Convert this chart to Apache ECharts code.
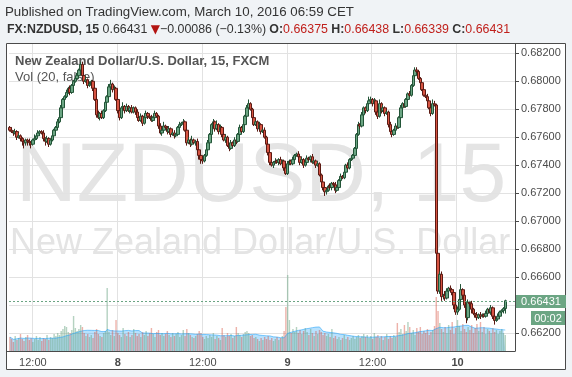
<!DOCTYPE html>
<html>
<head>
<meta charset="utf-8">
<script src="https://cdn.jsdelivr.net/npm/echarts@6/dist/echarts.min.js"></script>
<style>
  html, body { margin: 0; padding: 0; background: #f0f3f6; }
  #chart { width: 572px; height: 377px; }
</style>
</head>
<body>
<div id="chart"></div>
<script>
// FX:NZDUSD 15 min bars, Mar 7 08:45 -> Mar 10 06:45, prices in pips (x 0.0001)
const firstOpen = 6767;
const closes = [
  6765,6764,6763,6764,6760,6761,6759,6757,6756,6758,6757,6756,6755,6758,6759,6761,6763,6764,6763,6759,
  6757,6759,6755,6758,6761,6765,6767,6771,6774,6781,6787,6789,6792,6795,6792,6797,6800,6802,6804,6808,
  6812,6804,6800,6801,6797,6798,6800,6795,6787,6776,6774,6777,6774,6779,6785,6789,6796,6798,6794,6795,
  6787,6779,6774,6781,6782,6779,6782,6779,6781,6778,6781,6778,6774,6772,6775,6770,6774,6777,6775,6774,
  6772,6774,6777,6775,6768,6763,6765,6768,6767,6764,6766,6762,6763,6761,6762,6767,6769,6770,6771,6765,
  6756,6758,6755,6758,6756,6757,6751,6747,6744,6743,6747,6751,6756,6762,6769,6771,6766,6769,6764,6767,
  6762,6758,6760,6754,6752,6756,6754,6758,6757,6762,6767,6764,6769,6775,6781,6784,6780,6774,6769,6771,
  6766,6769,6764,6765,6760,6755,6749,6742,6740,6742,6743,6742,6744,6741,6743,6738,6734,6741,6743,6741,
  6744,6747,6748,6746,6742,6744,6740,6742,6745,6744,6746,6742,6743,6740,6741,6733,6728,6724,6721,6722,
  6725,6724,6727,6726,6722,6724,6729,6732,6731,6735,6740,6738,6744,6745,6747,6752,6762,6769,6768,6776,
  6781,6779,6784,6786,6787,6784,6786,6778,6775,6784,6779,6781,6777,6778,6769,6764,6762,6765,6768,6767,
  6774,6781,6784,6782,6787,6791,6790,6797,6804,6808,6807,6802,6799,6794,6790,6789,6786,6781,6777,6784,
  6783,6677,6650,6662,6646,6647,6645,6650,6652,6651,6649,6640,6635,6637,6644,6651,6647,6640,6631,6642,
  6641,6637,6634,6633,6631,6633,6632,6633,6632,6634,6637,6635,6638,6632,6629,6630,6632,6635,6636,6637.5,
  6643.1
];
const wickUp = [
  1,2,1,2,1,2,1,1,2,1,1,2,1,1,3,1,2,1,1,2, 1,2,1,1,2,1,1,2,1,2,1,1,2,1,2,1,1,1,2,1,
  2,2,1,3,1,2,1,1,2,1,3,1,2,1,1,1,2,3,1,2, 1,1,2,1,3,1,2,1,1,2,1,1,2,1,2,1,3,2,1,1,
  2,1,2,1,1,2,1,3,1,1,2,1,1,2,1,1,2,1,2,1, 1,2,1,3,1,1,2,1,1,2,1,1,2,1,1,2,1,3,1,2,
  1,1,2,1,1,2,1,2,1,1,2,1,1,1,2,3,1,1,2,1, 1,2,1,1,2,1,1,1,2,1,2,1,1,2,1,1,3,2,1,1,
  2,1,1,2,1,2,1,1,2,1,1,2,1,1,2,1,1,2,1,1, 1,2,1,1,2,1,1,2,1,1,1,2,1,2,1,1,1,2,1,2,
  1,1,2,3,2,1,2,1,1,3,1,2,1,1,1,2,1,1,2,1, 1,2,1,2,1,1,2,1,3,2,2,1,1,2,1,1,2,1,1,3,
  2,1,3,2,2,1,3,2,1,2,1,2,1,2,1,4,1,2,1,2, 1,2,1,1,2,1,2,1,1,2,1,1,2,1,1,1,2,1,1,1,
  0.7
];
const wickDn = [
  1,1,2,1,2,1,2,3,4,2,3,2,3,1,2,1,1,2,1,2, 3,1,2,1,1,1,2,1,1,1,1,2,1,1,2,1,1,1,1,2,
  1,1,2,1,2,1,1,2,1,2,1,2,1,1,1,2,1,1,2,1, 1,2,2,1,1,2,1,1,2,1,1,2,2,1,1,2,1,1,2,1,
  1,1,2,1,2,1,2,1,1,2,1,2,1,2,1,1,2,1,1,1, 2,1,2,1,1,2,1,3,3,2,1,1,1,1,1,1,2,1,2,1,
  2,1,2,1,2,1,1,1,2,1,1,1,1,1,1,1,1,2,1,1, 2,1,2,1,1,1,2,2,1,2,1,1,2,1,2,2,1,1,1,1,
  1,1,1,1,2,1,2,1,1,1,2,1,1,2,1,1,2,2,3,2, 1,1,2,1,2,1,1,1,1,1,1,1,1,1,1,1,1,1,2,1,
  1,2,1,1,1,2,1,2,2,1,2,1,2,1,2,1,2,1,1,1, 1,1,1,1,1,1,1,1,1,1,1,1,2,1,1,1,2,1,2,1,
  1,3,2,2,3,2,2,1,2,1,2,3,2,2,1,2,3,2,4,2, 2,3,1,2,2,1,2,1,1,1,2,1,2,2,3,1,1,2,1,2,
  3.6
];
const volumes = [
  14,12,9,15,11,13,17,12,10,14,16,11,13,9,12,15,11,14,10,13,
  12,16,11,14,13,17,15,18,16,20,22,25,24,19,18,21,35,23,20,22,
  26,24,18,15,17,14,16,13,19,22,17,15,14,18,20,63,19,16,21,15,
  31,18,16,14,23,17,15,19,14,16,22,18,15,17,14,19,16,20,15,18,
  23,17,14,19,21,16,18,15,17,20,16,14,18,15,17,19,14,16,21,15,
  22,18,16,14,13,15,17,20,18,14,12,15,13,16,14,18,12,15,13,11,
  23,16,14,18,15,17,13,15,24,18,16,14,17,19,20,18,15,16,13,14,
  12,10,13,11,14,12,15,11,13,10,12,14,11,13,15,20,44,76,31,18,
  22,19,24,18,21,17,20,23,19,16,22,18,15,20,17,21,19,16,18,15,
  17,14,22,13,15,12,14,11,13,16,12,14,11,13,15,12,14,16,13,15,
  17,14,16,13,15,12,18,14,16,13,15,11,14,17,12,15,13,16,14,28,
  19,22,17,26,20,29,24,18,21,16,23,19,24,17,20,18,22,16,19,21,
  25,54,40,28,22,19,24,18,26,21,29,17,23,31,25,20,27,22,19,24,
  21,26,18,23,27,20,29,19,24,17,22,20,18,23,19,21,17,20,22,18,
  16
];
const priceTicks = [0.662, 0.664, 0.666, 0.668, 0.670, 0.672, 0.674, 0.676, 0.678, 0.680, 0.682];
const lastPrice = 0.66431;
const startTime = Date.UTC(2016, 2, 7, 8, 45);
const padBars = 5;

const UP = '#6ba583', DOWN = '#d75442';

// categories: one per 15 min bar plus some empty space on the right
const times = [];
for (let i = 0; i < closes.length + padBars; i++) {
  const d = new Date(startTime + i * 15 * 60000);
  const hh = String(d.getUTCHours()).padStart(2, '0');
  const mm = String(d.getUTCMinutes()).padStart(2, '0');
  times.push(d.getUTCDate() + ' ' + hh + ':' + mm);
}

const candles = [], volData = [];
closes.forEach((c, i) => {
  const o = i === 0 ? firstOpen : closes[i - 1];
  const h = Math.max(o, c) + wickUp[i];
  const l = Math.min(o, c) - wickDn[i];
  candles.push([o / 1e4, c / 1e4, l / 1e4, h / 1e4]);
  volData.push({
    value: volumes[i],
    itemStyle: { color: c >= o ? 'rgba(107,165,131,0.5)' : 'rgba(215,84,66,0.45)' }
  });
});

// Vol MA(20)
const volMA = volumes.map((v, i) => {
  const from = Math.max(0, i - 19);
  const part = volumes.slice(from, i + 1);
  return part.reduce((a, b) => a + b, 0) / part.length;
});

const isMark = (idx, val) => /(12:00|00:00)$/.test(val);
const font = '"Liberation Sans", Arial, sans-serif';
const gridLeft = 9, gridRight = 57;
const plotRight = 572 - gridRight;

// static decorations; the last price marker is appended once the scale exists
function decorations(yLast) {
  const els = [
    { id: 'wm1', type: 'text', z: 0, silent: true,
      style: { text: 'NZDUSD, 15', x: 16, y: 220, font: '84px ' + font, fill: '#e4e4e4', verticalAlign: 'bottom' } },
    { id: 'wm2', type: 'text', z: 0, silent: true,
      style: { text: 'New Zealand Dollar/U.S. Dollar', x: 10, y: 262, font: '36px ' + font, fill: '#e4e4e4', verticalAlign: 'bottom' } },
    { id: 'lg1', type: 'text', z: 1, silent: true,
      style: { text: 'New Zealand Dollar/U.S. Dollar, 15, FXCM', x: 15, y: 61, font: 'bold 13px ' + font, fill: '#555555', verticalAlign: 'middle' } },
    { id: 'lg2', type: 'text', z: 1, silent: true,
      style: { text: 'Vol (20, false)', x: 15, y: 77, font: '13px ' + font, fill: '#555555', verticalAlign: 'middle' } },
    { id: 'm1', type: 'rect', z: 50, silent: true, shape: { x: 0, y: 0, width: 572, height: 43 }, style: { fill: '#f0f3f6' } },
    { id: 'm2', type: 'rect', z: 50, silent: true, shape: { x: 0, y: 0, width: 6, height: 377 }, style: { fill: '#f0f3f6' } },
    { id: 'm3', type: 'rect', z: 50, silent: true, shape: { x: 566, y: 0, width: 6, height: 377 }, style: { fill: '#f0f3f6' } },
    { id: 'm4', type: 'rect', z: 50, silent: true, shape: { x: 0, y: 370, width: 572, height: 7 }, style: { fill: '#f0f3f6' } },
    { id: 'frame', type: 'rect', z: 51, silent: true, shape: { x: 6.5, y: 43.5, width: 559, height: 326 }, style: { fill: null, stroke: '#4a4a4a', lineWidth: 1 } },
    { id: 'base', type: 'line', z: 51, silent: true, shape: { x1: 6, y1: 351.5, x2: plotRight, y2: 351.5 }, style: { stroke: '#4a4a4a', lineWidth: 1 } },
    { id: 'h1', type: 'text', z: 60, silent: true,
      style: { text: 'Published on TradingView.com, March 10, 2016 06:59 CET', x: 5, y: 12, font: '13.3px ' + font, fill: '#333333', verticalAlign: 'middle' } },
    { id: 'h2', type: 'text', z: 60, silent: true,
      style: {
        x: 7, y: 30, verticalAlign: 'middle',
        text: '{b|FX:NZDUSD, 15} {n|0.66431} {t|▼}{n|−0.00086 (−0.13%)} {b|O:}{r|0.66375} {b|H:}{r|0.66438} {b|L:}{r|0.66339} {b|C:}{r|0.66431}',
        rich: {
          b: { font: 'bold 12.4px ' + font, fill: '#333333' },
          n: { font: '12.4px ' + font, fill: '#333333' },
          t: { font: '12px "DejaVu Sans"', fill: '#b31412' },
          r: { font: '12.4px ' + font, fill: '#c0201c' }
        }
      } },
    { id: 'cdBox', type: 'rect', z: 60, silent: true, shape: { x: 531, y: 311, width: 34, height: 14 }, style: { fill: UP } },
    { id: 'cdTxt', type: 'text', z: 61, silent: true,
      style: { text: '00:02', x: 548, y: 318.5, font: '11px ' + font, fill: '#ffffff', align: 'center', verticalAlign: 'middle' } }
  ];
  if (yLast != null) {
    els.push(
      { id: 'lastLine', type: 'line', z: 4, silent: true,
        shape: { x1: gridLeft, y1: yLast, x2: plotRight, y2: yLast },
        style: { stroke: UP, lineWidth: 1, lineDash: [2, 2] } },
      { id: 'lastBox', type: 'rect', z: 60, silent: true,
        shape: { x: plotRight + 1, y: yLast - 6.5, width: 50, height: 13 }, style: { fill: UP } },
      { id: 'lastTxt', type: 'text', z: 61, silent: true,
        style: { text: lastPrice.toFixed(5), x: plotRight + 26, y: yLast, font: '11px ' + font, fill: '#ffffff', align: 'center', verticalAlign: 'middle' } }
    );
  }
  return els;
}

const chart = echarts.init(document.getElementById('chart'), null, { renderer: 'canvas' });
chart.setOption({
  animation: false,
  backgroundColor: '#ffffff',
  grid: { left: gridLeft, right: gridRight, top: 43, bottom: 26 },
  xAxis: {
    type: 'category',
    data: times,
    boundaryGap: true,
    axisLine: { show: true, lineStyle: { color: '#4a4a4a' } },
    axisTick: { show: false },
    axisLabel: {
      interval: isMark,
      margin: 6,
      color: '#4a4a4a',
      fontSize: 11,
      fontFamily: font,
      formatter: val => {
        const [day, hm] = val.split(' ');
        return hm === '00:00' ? '{b|' + day + '}' : hm;
      },
      rich: { b: { fontWeight: 'bold', fontSize: 11, fontFamily: font, color: '#4a4a4a' } }
    },
    splitLine: { show: true, interval: isMark, lineStyle: { color: '#e2e2e2' } }
  },
  yAxis: [{
    type: 'value',
    position: 'right',
    min: 0.660714,
    max: 0.682736,
    axisLine: { show: true, lineStyle: { color: '#4a4a4a' } },
    axisTick: { show: true, customValues: priceTicks, length: 4, lineStyle: { color: '#4a4a4a' } },
    axisLabel: {
      customValues: priceTicks,
      margin: 6,
      color: '#4a4a4a',
      fontSize: 11,
      fontFamily: font,
      formatter: v => v.toFixed(5)
    },
    splitLine: { show: true, lineStyle: { color: '#e2e2e2' } }
  }, {
    type: 'value',
    min: 0,
    max: 308,
    show: false,
    splitLine: { show: false }
  }],
  series: [{
    name: 'Volume',
    type: 'bar',
    yAxisIndex: 1,
    barWidth: '80%',
    data: volData,
    z: 1
  }, {
    name: 'Vol MA',
    type: 'line',
    yAxisIndex: 1,
    data: volMA,
    symbol: 'none',
    lineStyle: { color: 'rgba(30,160,250,0.55)', width: 1 },
    areaStyle: { color: 'rgba(30,160,250,0.45)' },
    z: 1
  }, {
    name: 'NZDUSD',
    type: 'candlestick',
    data: candles,
    barWidth: 3,
    itemStyle: {
      color: UP,
      color0: DOWN,
      borderColor: '#225437',
      borderColor0: '#5b1a13',
      borderWidth: 1
    },
    z: 3
  }],
  graphic: decorations(null)
});

// last price line and badge, placed through the price scale
const yLast = Math.round(chart.convertToPixel({ yAxisIndex: 0 }, lastPrice)) + 0.5;
chart.setOption({ graphic: decorations(yLast) });
</script>
</body>
</html>
